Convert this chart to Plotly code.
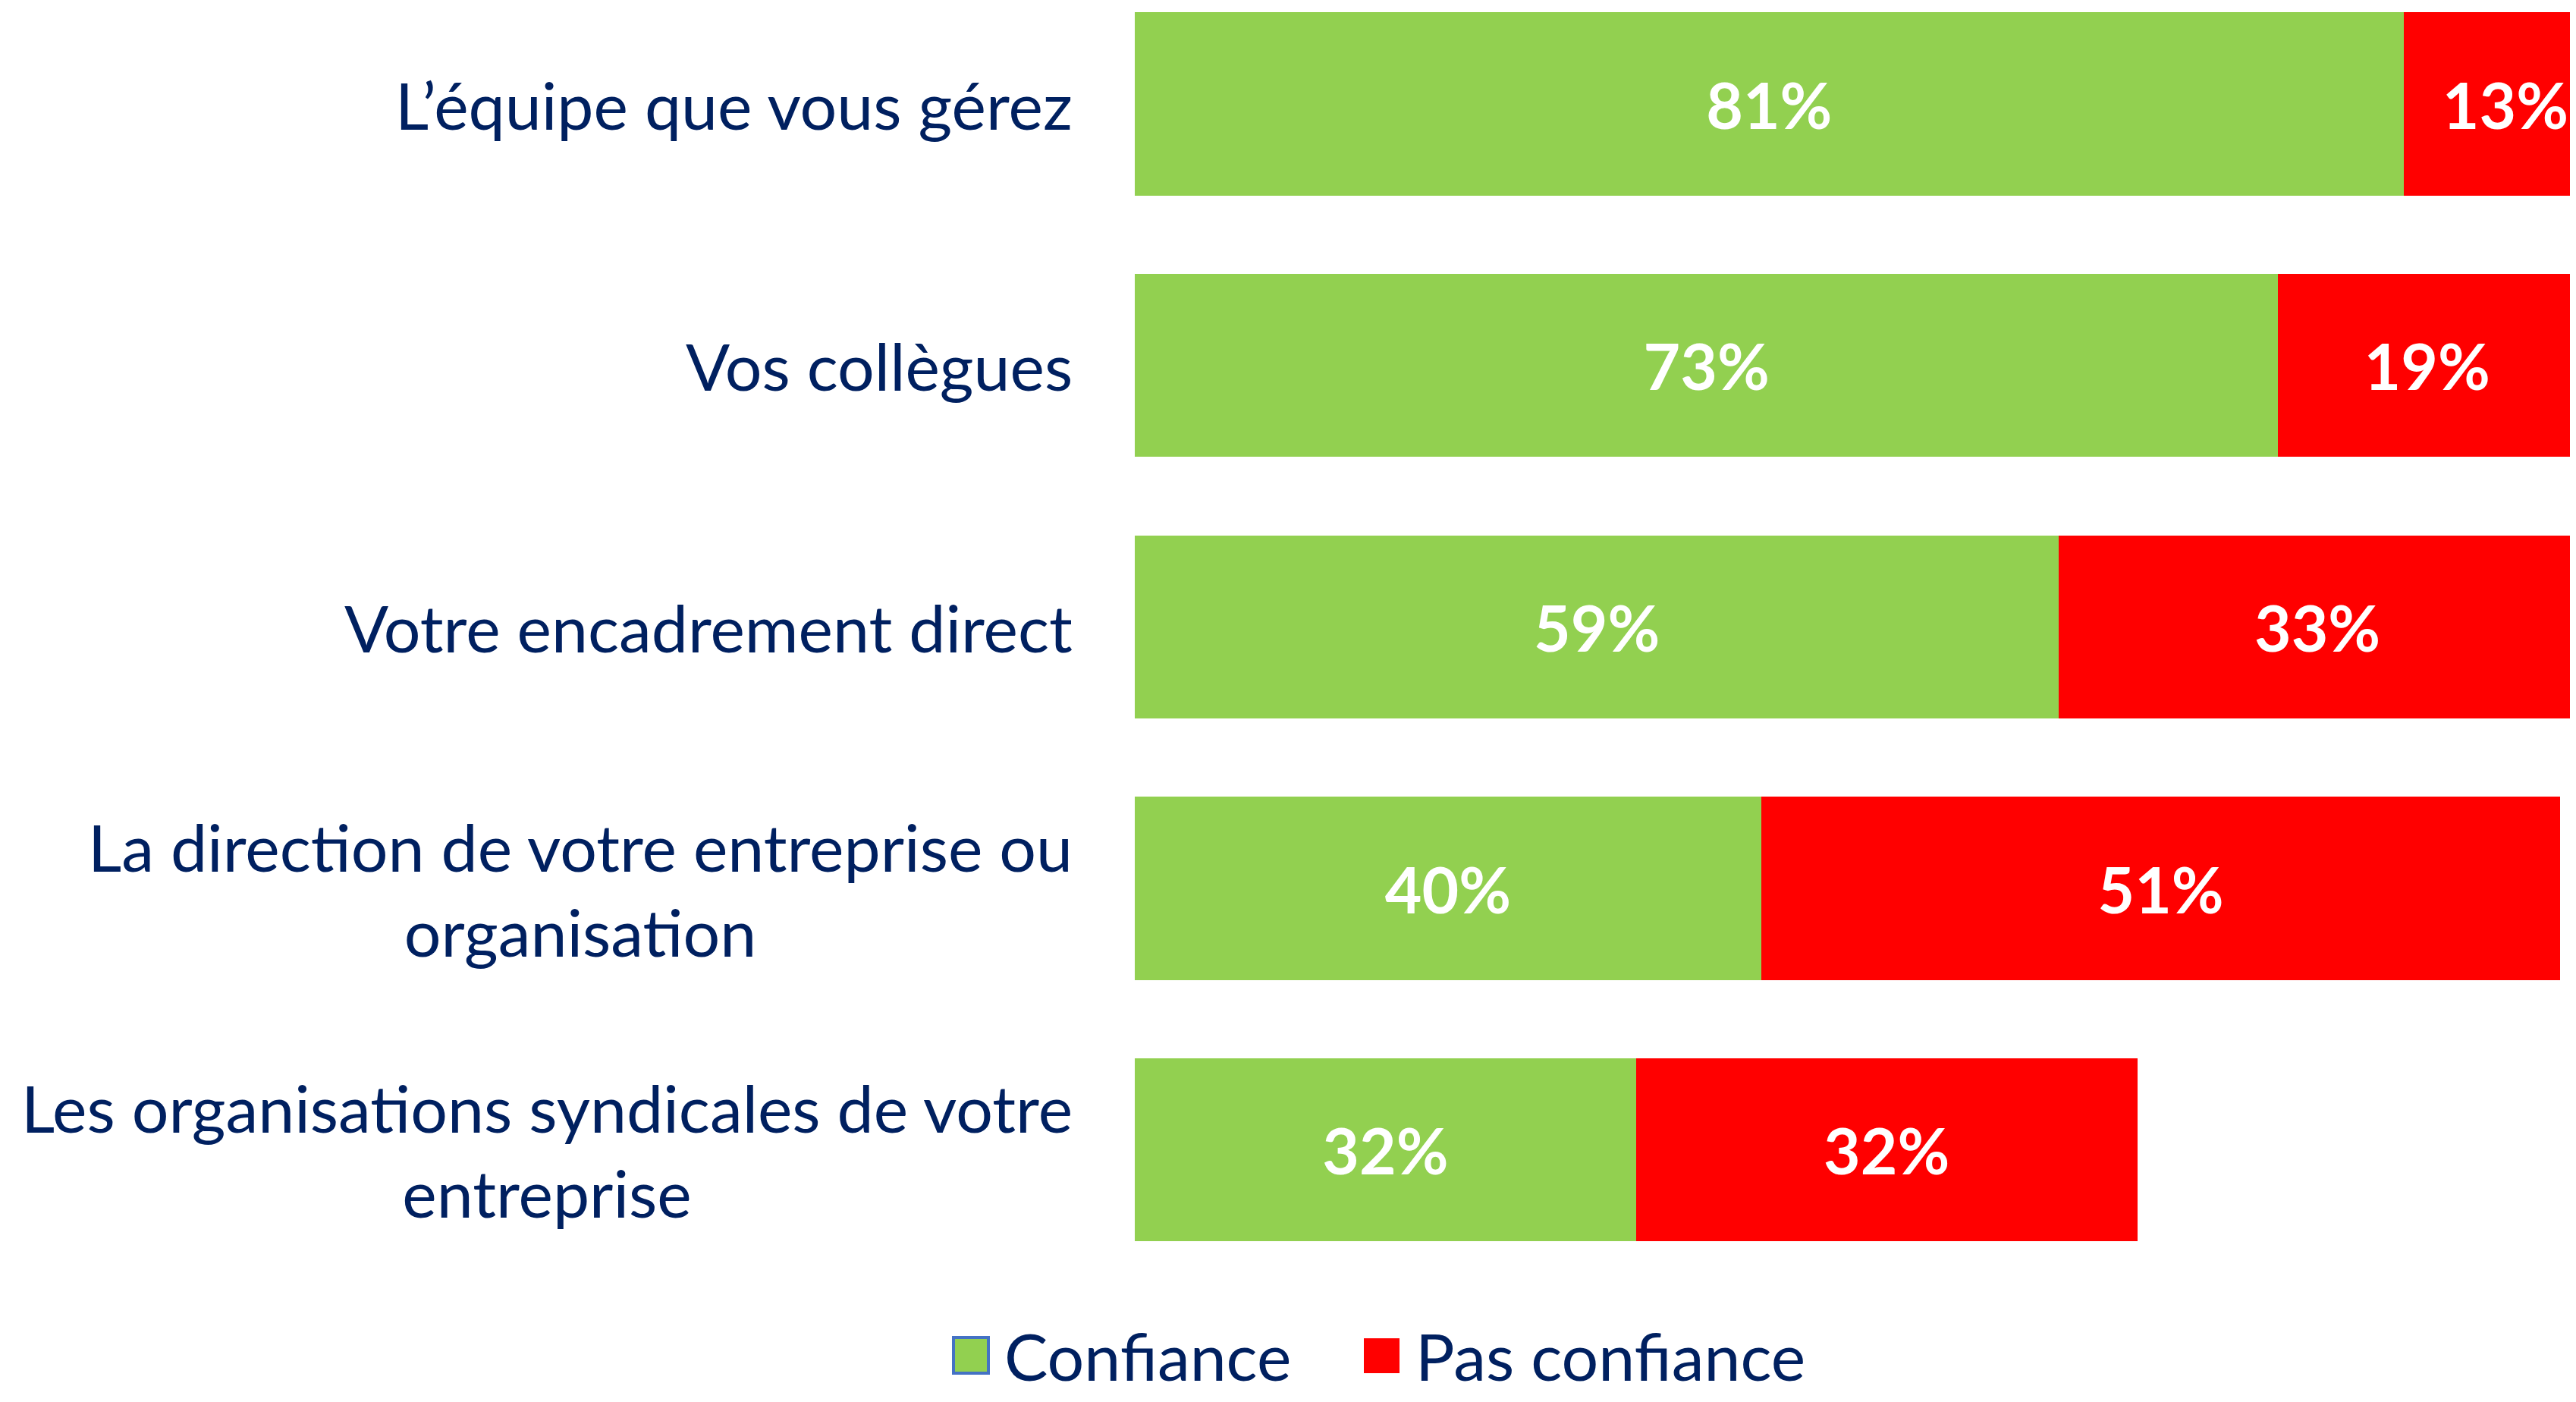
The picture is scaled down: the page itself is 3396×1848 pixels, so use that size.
import plotly.graph_objects as go

categories = [
    "L’équipe que vous gérez",
    "Vos collègues",
    "Votre encadrement direct",
    "La direction de votre entreprise ou<br>organisation",
    "Les organisations syndicales de votre<br>entreprise",
]
confiance = [81, 73, 59, 40, 32]
pas_confiance = [13, 19, 33, 51, 32]
series_names = ["Confiance", "Pas confiance"]

GREEN = "#92D050"
RED = "#FF0000"
NAVY = "#002060"
FONT = "Lato"

OFF = 8  # page body margin
W, H = 3396 - OFF, 1848 - 2 * OFF
L_M, B_M = 1496 - OFF, 140
plot_w = W - L_M
plot_h = H - B_M

fig = go.Figure()
for name, vals, col in [(series_names[0], confiance, GREEN), (series_names[1], pas_confiance, RED)]:
    fig.add_trace(go.Bar(
        y=categories, x=vals, orientation="h", name=name,
        marker=dict(color=col, line=dict(width=0)),
        text=[f"{v}%" for v in vals], textposition="inside",
        insidetextanchor="middle", constraintext="none",
        textfont=dict(family=FONT, size=84, color="white", weight="bold"),
        showlegend=False, hoverinfo="skip",
    ))


def px_x(p):
    return (p - OFF - L_M) / plot_w


def px_y(p):
    return (plot_h - (p - OFF)) / plot_h


# category labels, centred multi-line, right aligned against bars
for c in categories:
    fig.add_annotation(
        x=px_x(1416), xref="paper", y=c, yref="y", text=c, showarrow=False,
        xanchor="right", yanchor="middle", align="center",
        font=dict(family=FONT, size=86, color=NAVY),
    )

# manual legend
LEG_Y = 1786
fig.add_shape(type="rect", xref="paper", yref="paper",
              x0=px_x(1257), x1=px_x(1303), y0=px_y(LEG_Y + 24), y1=px_y(LEG_Y - 23),
              fillcolor=GREEN, line=dict(color="#4472C4", width=4))
fig.add_shape(type="rect", xref="paper", yref="paper",
              x0=px_x(1798), x1=px_x(1845), y0=px_y(LEG_Y + 24), y1=px_y(LEG_Y - 22),
              fillcolor=RED, line=dict(width=0))
fig.add_annotation(x=px_x(1322), xref="paper", y=px_y(LEG_Y), yref="paper",
                   text=series_names[0], showarrow=False, xanchor="left", yanchor="middle",
                   font=dict(family=FONT, size=86, color=NAVY))
fig.add_annotation(x=px_x(1864), xref="paper", y=px_y(LEG_Y), yref="paper",
                   text=series_names[1], showarrow=False, xanchor="left", yanchor="middle",
                   font=dict(family=FONT, size=86, color=NAVY))

ppu = 344.7
top_val = -(137 - OFF) / ppu
bot_val = top_val + plot_h / ppu

fig.update_layout(
    width=W, height=H, barmode="stack", bargap=0.3,
    margin=dict(l=L_M, r=0, t=0, b=B_M, pad=0),
    paper_bgcolor="white", plot_bgcolor="white",
    xaxis=dict(range=[0, plot_w / 20.65], visible=False, fixedrange=True),
    yaxis=dict(range=[bot_val, top_val], autorange=False, showticklabels=False,
               showgrid=False, zeroline=False, showline=False, ticks="",
               categoryorder="array", categoryarray=categories),
    font=dict(family=FONT),
)

fig.write_html("out.html")
